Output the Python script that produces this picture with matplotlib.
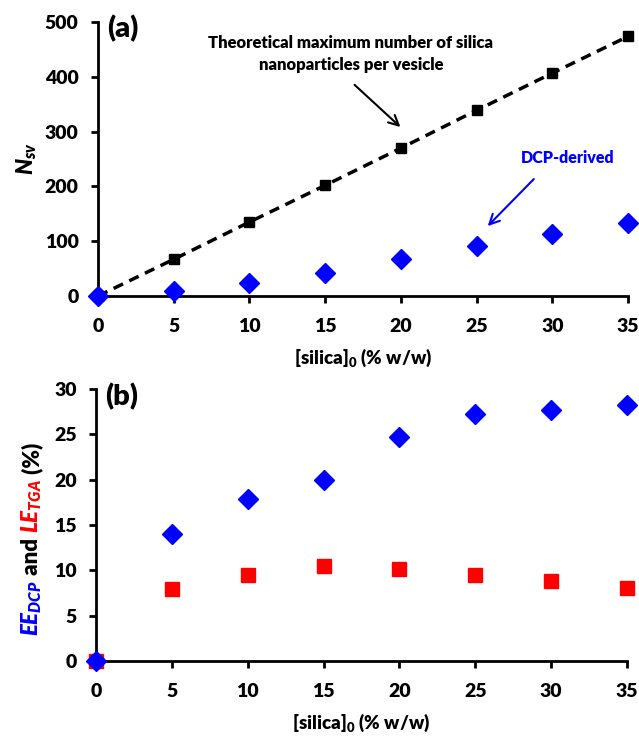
import numpy as np
import matplotlib.pyplot as plt

plt.rcParams['font.family'] = ['Lato', 'DejaVu Sans']
plt.rcParams['font.weight'] = 'heavy'
plt.rcParams['axes.labelweight'] = 'heavy'
plt.rcParams['mathtext.fontset'] = 'custom'
plt.rcParams['mathtext.rm'] = 'Lato:heavy'
plt.rcParams['mathtext.it'] = 'Lato:heavy:italic'
plt.rcParams['mathtext.bf'] = 'Lato:heavy'

silica = [0, 5, 10, 15, 20, 25, 30, 35]

# (a) number of silica nanoparticles per vesicle
n_theory = [0, 67, 135, 202, 270, 339, 407, 474]
n_dcp = [0, 9, 24, 42, 67, 91, 113, 133]

# (b) encapsulation / loading efficiency (%)
ee_dcp = [0, 14.0, 17.9, 20.0, 24.7, 27.2, 27.7, 28.2]
le_tga = [0, 7.9, 9.5, 10.5, 10.1, 9.5, 8.85, 8.0]

W = 'heavy'

fig = plt.figure(figsize=(6.39, 7.37), dpi=100)
ax1 = fig.add_axes([0.1534, 0.5984, 0.8296, 0.3716])
ax2 = fig.add_axes([0.1502, 0.1031, 0.8310, 0.3691])


def style_axis(ax):
    for side in ['top', 'right']:
        ax.spines[side].set_visible(False)
    for side in ['left', 'bottom']:
        ax.spines[side].set_linewidth(2)
    ax.tick_params(direction='out', length=5, width=2, labelsize=14)
    ax.tick_params(axis='x', pad=11)
    ax.tick_params(axis='y', pad=9)
    ax.set_xlim(0, 35)
    ax.set_xticks(silica)
    ax.set_xticklabels([str(v) for v in silica], fontweight=W)
    ax.set_xlabel(r'[silica]$_\mathbf{0}$ (% w/w)', fontsize=13.5, fontweight=W,
                  labelpad=8.5)


# --- panel (a) ---
ax1.plot(silica, n_theory, color='black', linestyle='--', linewidth=2.5,
         dashes=(3, 2), marker='s', markersize=7.5, clip_on=False, zorder=3)
ax1.plot(silica, n_dcp, linestyle='none', marker='D', markersize=10,
         color='#0000ff', clip_on=False, zorder=4)
style_axis(ax1)
ax1.set_ylim(0, 500)
ax1.set_yticks(range(0, 501, 100))
ax1.set_yticklabels([str(v) for v in range(0, 501, 100)], fontweight=W)
ax1.set_ylabel('$N_{sv}$', fontsize=16, labelpad=4)
ax1.text(0.6, 488, '(a)', fontsize=21, fontweight=W, va='center')
ax1.text(16.7, 442, 'Theoretical maximum number of silica\nnanoparticles per vesicle',
         fontsize=12, fontweight=W, ha='center', va='center', linespacing=1.5)
ax1.annotate('', xy=(20.1, 305), xytext=(16.8, 389),
             arrowprops=dict(arrowstyle='->', color='black', lw=1.5, mutation_scale=18))
ax1.text(31.0, 252, 'DCP-derived', fontsize=11.5, fontweight=W, color='#0000ff',
         ha='center', va='center')
ax1.annotate('', xy=(25.6, 124), xytext=(28.9, 217),
             arrowprops=dict(arrowstyle='->', color='#0000ff', lw=1.5, mutation_scale=18))

# --- panel (b) ---
ax2.plot(silica, le_tga, linestyle='none', marker='s', markersize=10.5,
         color='#ff0000', clip_on=False, zorder=3)
ax2.plot(silica, ee_dcp, linestyle='none', marker='D', markersize=10,
         color='#0000ff', clip_on=False, zorder=4)
style_axis(ax2)
ax2.set_ylim(0, 30)
ax2.set_yticks(range(0, 31, 5))
ax2.set_yticklabels([str(v) for v in range(0, 31, 5)], fontweight=W)
ax2.text(0.6, 29.2, '(b)', fontsize=21, fontweight=W, va='center')

# multi-coloured y label for panel (b), stacked bottom to top
fig.canvas.draw()
renderer = fig.canvas.get_renderer()
pieces = [('$EE_{DCP}$', '#0000ff'), (' and ', 'black'),
          ('$LE_{TGA}$', '#ff0000'), (' (%)', 'black')]
y_px = 636
for s, c in pieces:
    t = fig.text(32 / 639, 1 - y_px / 737, s, rotation=90, color=c, fontsize=16,
                 fontweight=W, ha='center', va='bottom')
    bb = t.get_window_extent(renderer)
    y_px -= bb.height

fig.savefig('out.png', dpi=100)
